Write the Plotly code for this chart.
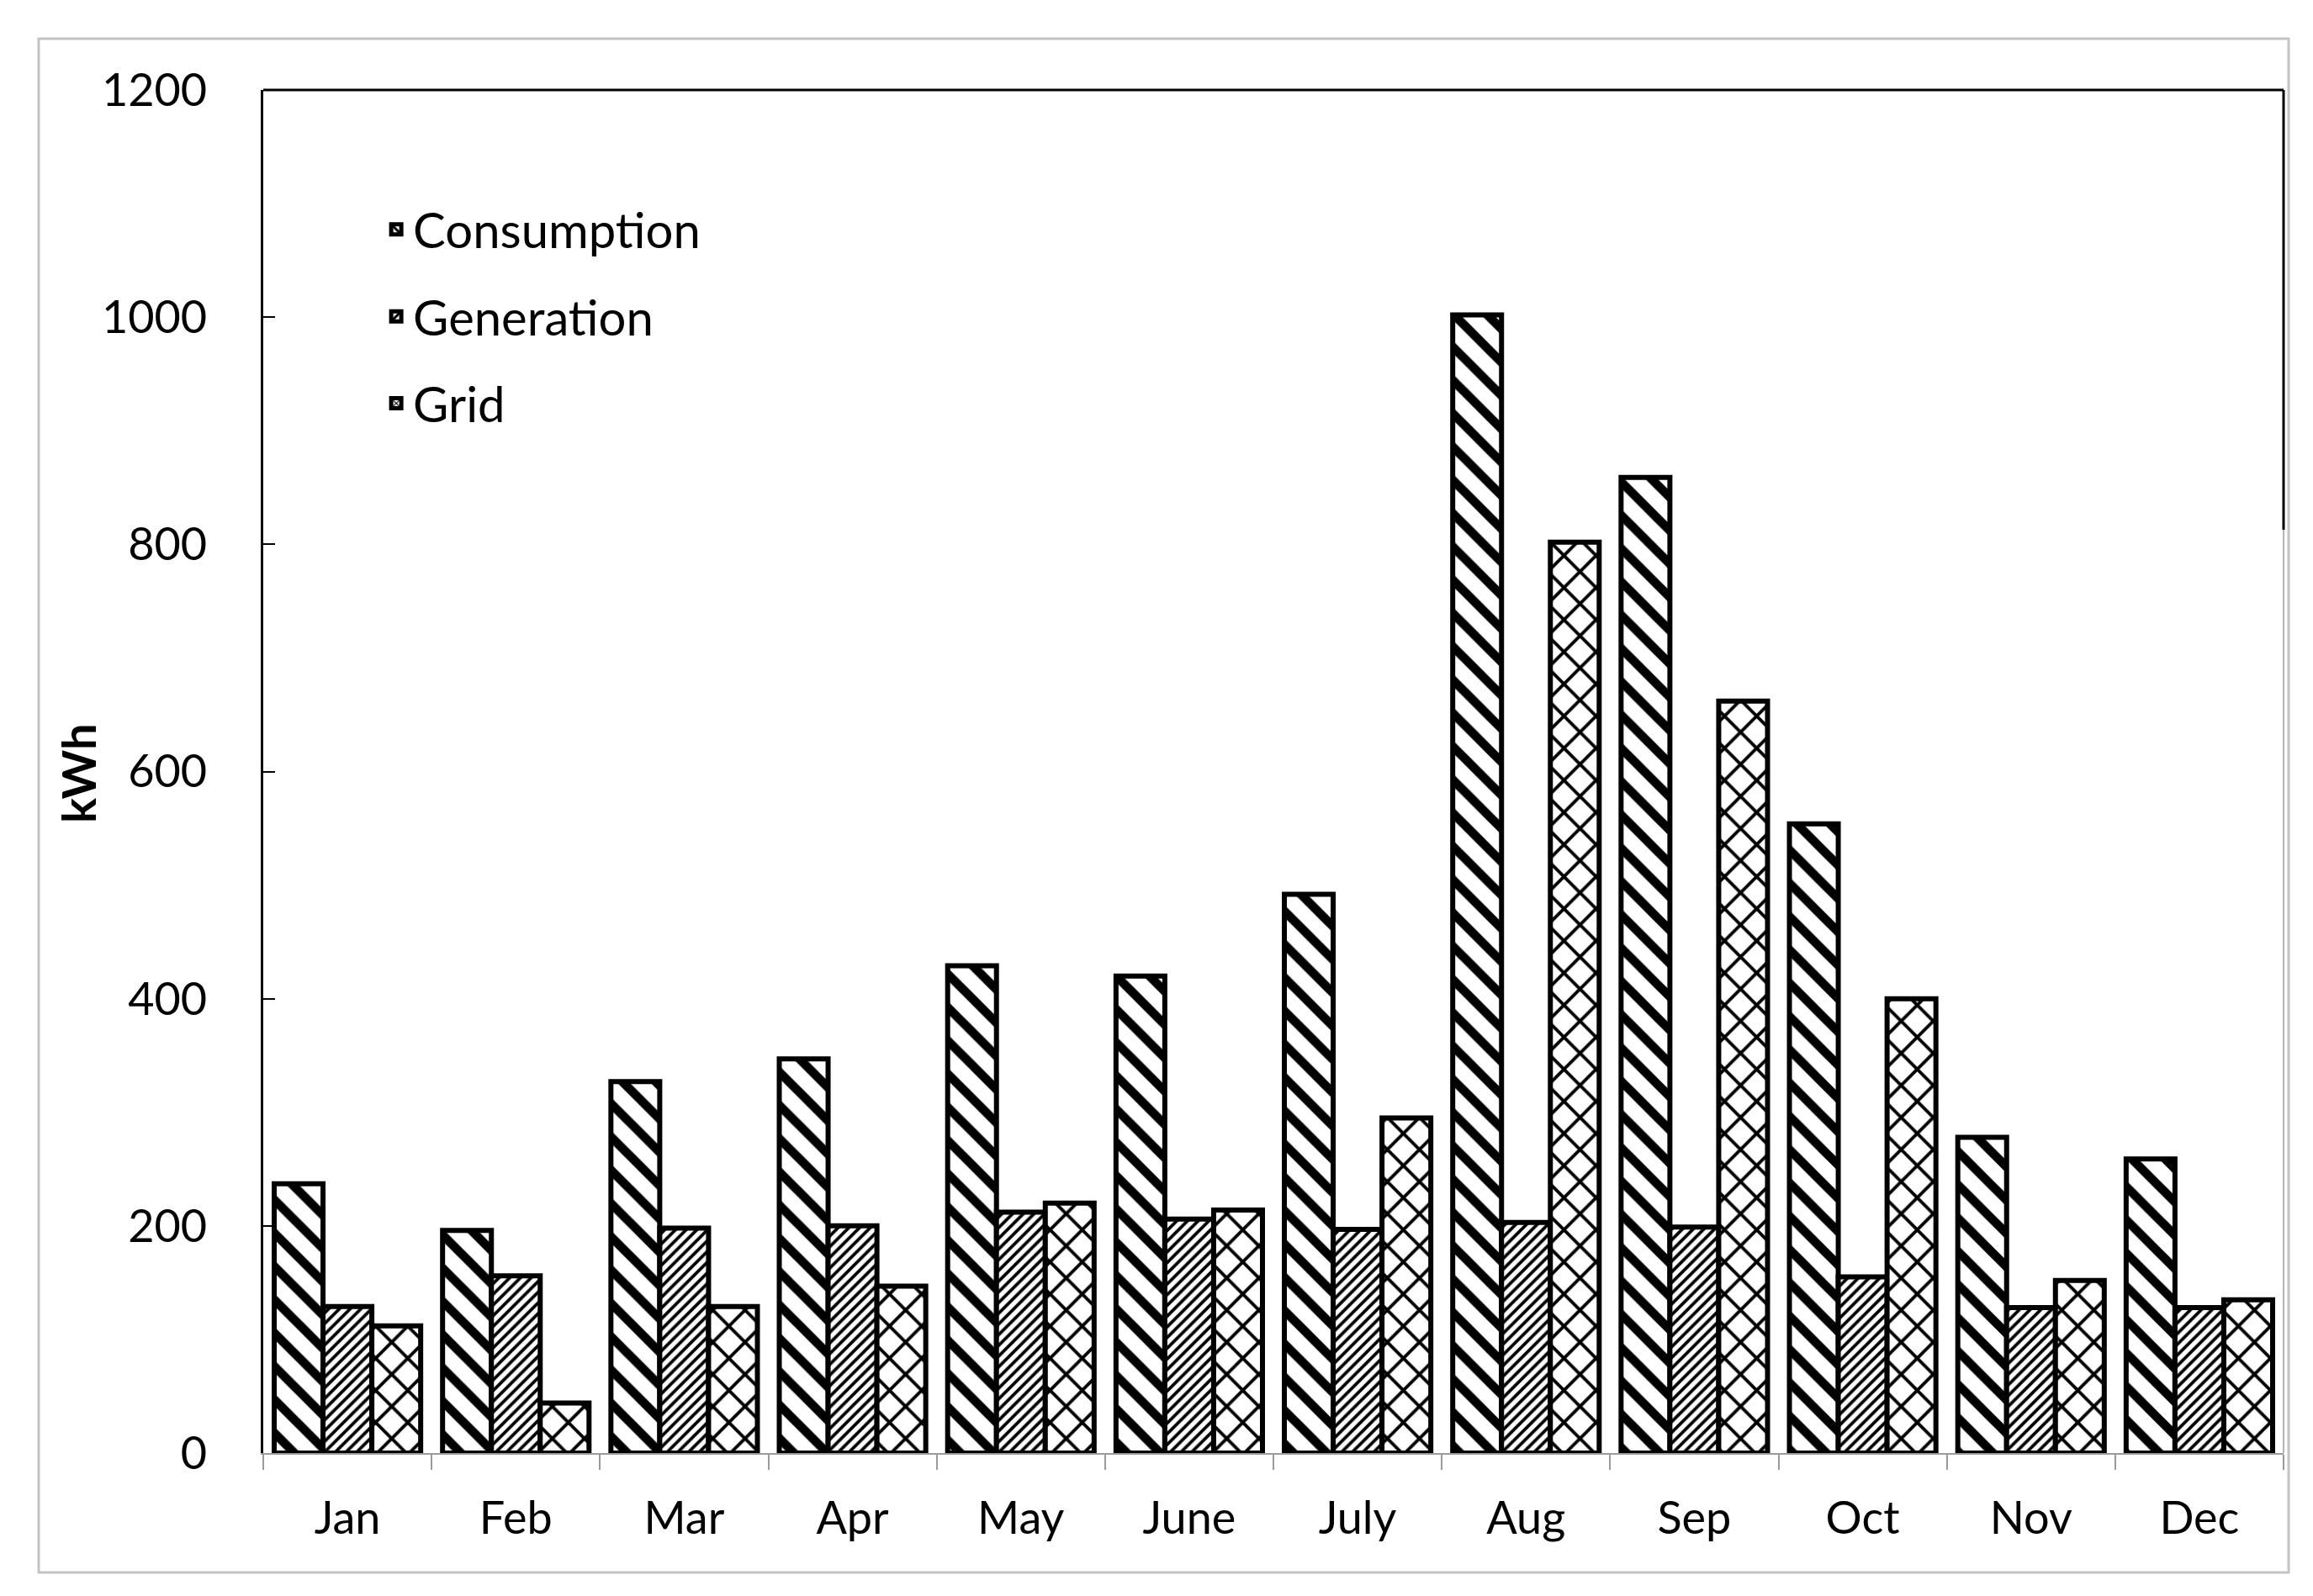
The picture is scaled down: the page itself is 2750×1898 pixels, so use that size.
import plotly.graph_objects as go

months = ["Jan", "Feb", "Mar", "Apr", "May", "June", "July", "Aug", "Sep", "Oct", "Nov", "Dec"]
consumption = [237, 196, 327, 347, 429, 420, 492, 1002, 859, 554, 278, 259]
generation = [129, 156, 198, 200, 212, 206, 197, 203, 199, 155, 128, 128]
grid = [112, 44, 129, 147, 220, 214, 295, 802, 662, 400, 152, 135]
y_ticks = [0, 200, 400, 600, 800, 1000, 1200]

FONT = "Lato"
W, H = 2750, 1898
L, R, T, B = 305, 43, 99, 178

fig = go.Figure()
specs = [
    ("Consumption", consumption, dict(shape="\\", size=28, solidity=0.38)),
    ("Generation", generation, dict(shape="/", size=9, solidity=0.42)),
    ("Grid", grid, dict(shape="x", size=27, solidity=0.27)),
]
for name, vals, pat in specs:
    fig.add_trace(go.Bar(
        x=months, y=vals, name=name, legendgroup=name,
        marker=dict(
            color="white",
            line=dict(color="black", width=6),
            pattern=dict(fgcolor="black", bgcolor="white", fillmode="replace", **pat),
        ),
    ))

pw = W - L - R
ph = H - T - B
def px_x(p):
    return (p - L) / pw
def px_y(p):
    return (H - B - p) / ph

shapes = [
    # outer light-gray frame
    dict(type="rect", xref="paper", yref="paper",
         x0=px_x(38), x1=px_x(2713), y0=px_y(1862), y1=px_y(38),
         line=dict(color="#c4c4c4", width=3), fillcolor="rgba(0,0,0,0)", layer="below"),
    # top border (black)
    dict(type="line", xref="paper", yref="paper", x0=0, x1=1, y0=1, y1=1,
         line=dict(color="black", width=3)),
    # right border: thin gray full, thick black upper part
    dict(type="line", xref="paper", yref="paper", x0=1, x1=1, y0=0, y1=1,
         line=dict(color="#9a9a9a", width=1.5)),
    dict(type="line", xref="paper", yref="paper", x0=1, x1=1, y0=px_y(622), y1=1,
         line=dict(color="black", width=3)),
]

annotations = [
    dict(text="<b>kWh</b>", xref="paper", yref="paper", x=px_x(84), y=px_y(912),
         textangle=-90, showarrow=False, xanchor="center", yanchor="middle",
         font=dict(family=FONT, size=56, color="black")),
]

fig.update_layout(
    width=W, height=H,
    margin=dict(l=L, r=R, t=T, b=B, autoexpand=False),
    paper_bgcolor="white", plot_bgcolor="white",
    barmode="group", bargap=0.13, bargroupgap=0,
    font=dict(family=FONT, size=54, color="black"),
    showlegend=True,
    legend=dict(
        x=0.0575, y=0.925, xanchor="left", yanchor="top",
        font=dict(family=FONT, size=58, color="black"),
        bgcolor="rgba(0,0,0,0)", tracegroupgap=25,
        itemwidth=30,
    ),
    shapes=shapes,
    annotations=annotations,
    xaxis=dict(
        type="category", showline=True, linecolor="#9a9a9a", linewidth=2,
        ticks="outside", tickson="boundaries", ticklen=18, tickwidth=2, tickcolor="#9a9a9a",
        tickfont=dict(family=FONT, size=54, color="black"),
        ticklabelstandoff=29, showgrid=False, zeroline=False, automargin=False,
    ),
    yaxis=dict(
        range=[0, 1200], tickvals=y_ticks, ticktext=[str(v) for v in y_ticks],
        showline=True, linecolor="black", linewidth=3,
        ticks="inside", ticklen=14, tickwidth=2, tickcolor="black",
        tickfont=dict(family=FONT, size=54, color="black"),
        ticklabelstandoff=53, showgrid=False, zeroline=False, automargin=False,
    ),
)

fig.write_html("out.html")
